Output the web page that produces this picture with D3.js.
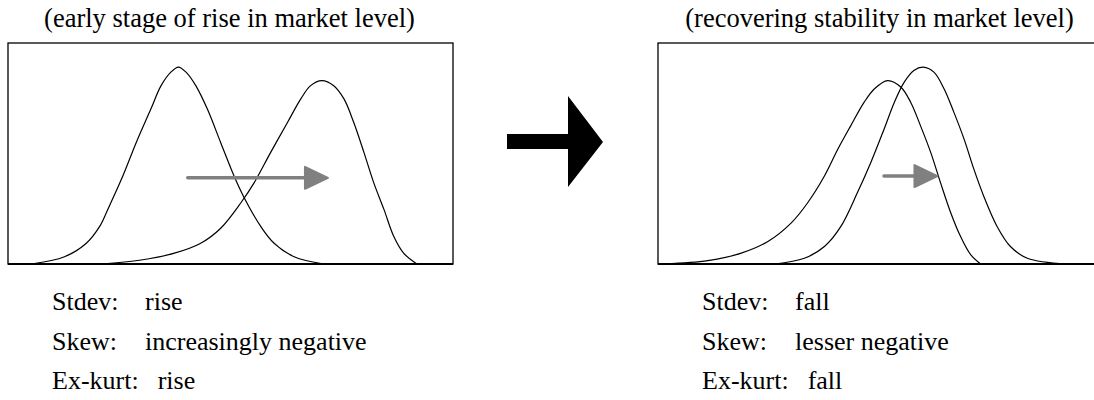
<!DOCTYPE html>
<html>
<head>
<meta charset="utf-8">
<script src="https://cdn.jsdelivr.net/npm/d3@7"></script>
<style>
  body { margin: 0; background: #fff; }
  svg text { font-family: "Liberation Serif", "DejaVu Serif", serif; fill: #000; }
</style>
</head>
<body>
<svg id="chart" width="1094" height="400"></svg>
<script>
// panel titles and the moment table under each panel
const panelTitles = ["(early stage of rise in market level)", "(recovering stability in market level)"];
const momentLabels = ["Stdev:", "Skew:", "Ex-kurt:"];
const leftMoments = ["rise", "increasingly negative", "rise"];
const rightMoments = ["fall", "lesser negative", "fall"];

// density curves: [x position (% of range), density (% of box height)]
const leftBefore = [[5.2,0],[12.7,3.3],[17.6,9.4],[20.6,17.0],[22.4,24.6],[25.8,39.8],[28.8,54.9],[32.1,70.1],[34.4,80.7],[36.6,86.8],[38.3,89.1],[40.0,86.8],[42.2,80.7],[44.8,70.1],[47.8,54.9],[50.8,39.8],[52.9,30.7],[56.8,17.0],[59.8,9.4],[64.3,3.3],[71.0,0]];
const leftAfter = [[20.9,0],[29.9,1.8],[37.4,4.9],[43.3,9.4],[47.8,16.2],[52.3,27.6],[55.3,36.7],[59.0,50.4],[62.8,64.0],[65.8,74.7],[68.0,80.7],[70.5,83.0],[73.2,80.7],[75.5,74.7],[77.7,64.0],[80.0,50.4],[82.2,36.7],[84.5,24.6],[86.7,12.4],[88.9,4.9],[91.9,0]];
const rightBefore = [[1.5,0],[11.2,1.5],[18.7,4.9],[24.7,10.2],[29.9,18.5],[33.6,27.6],[37.4,39.8],[40.4,51.9],[43.3,62.5],[46.3,73.1],[48.6,79.2],[51.6,83.0],[54.6,80.0],[56.8,73.1],[59.0,62.5],[61.3,50.4],[63.5,36.7],[65.8,23.1],[68.0,12.4],[70.3,4.1],[72.5,0]];
const rightAfter = [[26.2,0],[32.9,2.6],[37.4,7.9],[41.1,17.0],[44.8,32.2],[47.8,45.8],[50.8,61.0],[53.1,73.1],[55.3,82.2],[57.5,87.6],[59.6,89.1],[62.0,86.8],[64.3,79.2],[66.5,68.6],[68.8,56.4],[71.0,42.8],[73.2,30.7],[76.2,17.0],[79.2,7.9],[83.0,2.6],[91.9,0]];

// shift arrows: [from x, to x, level]
const leftShift = [40.4, 71.9, 39.0];
const rightShift = [50.8, 62.8, 39.8];

const svg = d3.select("#chart");
const boxW = 445, boxH = 221, boxTop = 43;
const panels = [
  { x0: 8, title: panelTitles[0], curves: [leftBefore, leftAfter], shift: leftShift, moments: leftMoments },
  { x0: 658, title: panelTitles[1], curves: [rightBefore, rightAfter], shift: rightShift, moments: rightMoments }
];

panels.forEach(p => {
  const x = d3.scaleLinear().domain([0, 100]).range([p.x0, p.x0 + boxW]);
  const y = d3.scaleLinear().domain([0, 100]).range([boxTop + boxH, boxTop]);
  const g = svg.append("g");

  g.append("text")
    .attr("x", p.x0 + boxW / 2 - 1)
    .attr("y", 27)
    .attr("text-anchor", "middle")
    .attr("font-family", "Liberation Serif")
    .style("font-size", "26.5px")
    .text(p.title);

  g.append("rect")
    .attr("x", p.x0).attr("y", boxTop)
    .attr("width", boxW).attr("height", boxH)
    .attr("fill", "none").attr("stroke", "#000").attr("stroke-width", 1.3);

  const line = d3.line()
    .x(d => x(d[0]))
    .y(d => y(d[1]))
    .curve(d3.curveCatmullRom.alpha(0.5));

  g.selectAll(".dens")
    .data(p.curves)
    .enter().append("path")
    .attr("class", "dens")
    .attr("d", line)
    .attr("fill", "none")
    .attr("stroke", "#000")
    .attr("stroke-width", 1.2);

  g.append("line")
    .attr("x1", p.x0).attr("x2", p.x0 + boxW)
    .attr("y1", boxTop + boxH).attr("y2", boxTop + boxH)
    .attr("stroke", "#000").attr("stroke-width", 2);

  // gray shift arrow
  const [fx, tx, lv] = p.shift;
  const headLen = 23, headHalf = 11;
  g.append("line")
    .attr("x1", x(fx)).attr("x2", x(tx) - headLen + 2)
    .attr("y1", y(lv)).attr("y2", y(lv))
    .attr("stroke", "#808080").attr("stroke-width", 3.6)
    .attr("stroke-linecap", "round");
  g.append("path")
    .attr("d", `M${x(tx)},${y(lv)} L${x(tx) - headLen},${y(lv) - headHalf} L${x(tx) - headLen},${y(lv) + headHalf} Z`)
    .attr("fill", "#808080").attr("stroke", "#808080")
    .attr("stroke-width", 2).attr("stroke-linejoin", "round");

  // moment table
  const rowY = [310, 350, 389];
  momentLabels.forEach((lab, i) => {
    const t = g.append("text")
      .attr("x", p.x0 + 44).attr("y", rowY[i])
      .attr("font-family", "Liberation Serif")
      .style("font-size", "26px")
      .text(lab);
    const w = t.node().getComputedTextLength();
    g.append("text")
      .attr("x", p.x0 + 44 + Math.max(93, w + 19)).attr("y", rowY[i])
      .attr("font-family", "Liberation Serif")
      .style("font-size", "26px")
      .text(p.moments[i]);
  });
});

// big black transition arrow
svg.append("path")
  .attr("d", "M507,134 L568,134 L568,96 L603,142 L568,187 L568,149 L507,149 Z")
  .attr("fill", "#000");
</script>
</body>
</html>
